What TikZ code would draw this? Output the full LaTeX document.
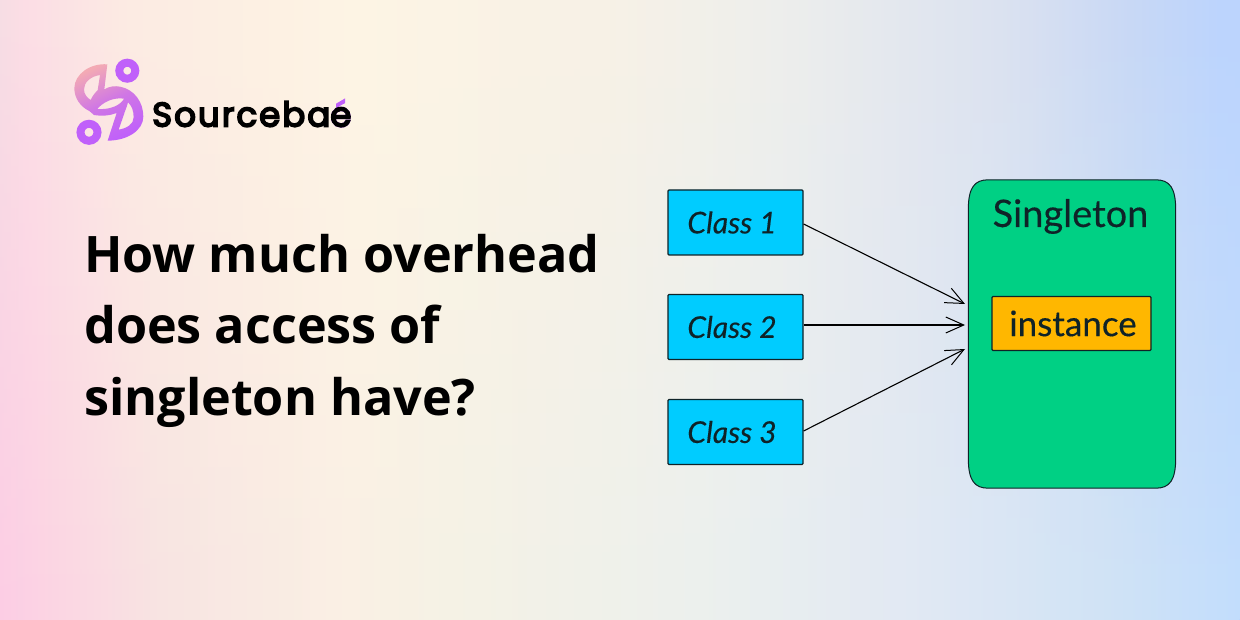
\documentclass[tikz,border=0pt]{standalone}
\usepackage{fontspec}
\setmainfont{Open Sans}
\newfontfamily\logofont[LetterSpace=6,FakeBold=5]{Poppins}
\newfontfamily\handfont[FakeBold=0.3]{Lato}
\usetikzlibrary{arrows.meta,shadings,fadings}
\definecolor{clsblue}{RGB}{0,204,255}
\definecolor{singgreen}{RGB}{0,208,132}
\definecolor{instorange}{RGB}{255,183,0}
\definecolor{inkdark}{RGB}{15,35,40}
\definecolor{logopink}{RGB}{243,170,180}
\definecolor{logopurple}{RGB}{192,96,250}
\definecolor{ta}{RGB}{246,222,228}
\definecolor{tb}{RGB}{252,222,230}
\definecolor{tc}{RGB}{253,236,228}
\definecolor{td}{RGB}{254,245,228}
\definecolor{te}{RGB}{248,242,230}
\definecolor{tf}{RGB}{238,238,236}
\definecolor{tg}{RGB}{220,226,240}
\definecolor{th}{RGB}{200,216,245}
\definecolor{ti}{RGB}{188,212,254}
\definecolor{ba}{RGB}{253,205,228}
\definecolor{bb}{RGB}{248,228,226}
\definecolor{bc}{RGB}{250,240,228}
\definecolor{bd}{RGB}{245,242,230}
\definecolor{be}{RGB}{236,240,238}
\definecolor{bf}{RGB}{226,234,244}
\definecolor{bg}{RGB}{210,228,246}
\definecolor{bh}{RGB}{195,222,252}
\pgfdeclarehorizontalshading{bgtop}{100bp}{color(0bp)=(ta); color(25bp)=(ta); color(26bp)=(tb); color(30.24bp)=(tc); color(39.35bp)=(td); color(49.2bp)=(te); color(56.45bp)=(tf); color(65.3bp)=(tg); color(70.56bp)=(th); color(74.2bp)=(ti); color(100bp)=(ti)}
\pgfdeclarehorizontalshading{bgbottom}{100bp}{color(0bp)=(ba); color(25bp)=(ba); color(31.45bp)=(bb); color(39.1bp)=(bc); color(43.1bp)=(bd); color(53.2bp)=(be); color(61.3bp)=(bf); color(69.35bp)=(bg); color(75bp)=(bh); color(100bp)=(bh)}
\tikzset{
  classbox/.style={draw=inkdark,line width=1.2pt,fill=clsblue,rounded corners=1pt,minimum width=135pt,minimum height=65pt,inner sep=0pt,font=\handfont\itshape\fontsize{30}{32}\selectfont,text=inkdark},
  instbox/.style={draw=inkdark,line width=1.2pt,fill=instorange,rounded corners=1pt,minimum width=159pt,minimum height=54pt,inner sep=0pt,font=\handfont\fontsize{35}{38}\selectfont,text=inkdark},
  link/.style={draw=black,line width=1.1pt,-{Straight Barb[length=18pt,width=16pt,line width=1pt]}},
  titletext/.style={font=\bfseries\fontsize{50.3}{72}\selectfont,text=black,anchor=base west,inner sep=0pt},
  ring/.style={draw=logopurple,line width=8pt,fill=none},
}
\begin{document}
\begin{tikzpicture}[x=1pt,y=-1pt]
\useasboundingbox (0,0) rectangle (1240,620);
\shade[shading=bgtop] (0,0) rectangle (1240,620);
\shade[shading=bgbottom,path fading=north] (0,0) rectangle (1240,620);
% logo
\draw[ring] (127.3,70.7) circle (8pt);
\draw[ring] (89,132.3) circle (8.5pt);
\begin{scope}[shift={(70,55)},x=.3333pt,y=-.3333pt]
\shade[even odd rule,top color=logopink,bottom color=logopurple,middle color=logopurple!70!logopink,shading angle=25]
  (112,28) .. controls (60,24) and (13,58) .. (13,100)
  .. controls (13,128) and (30,155) .. (58,168)
  -- (72,180) .. controls (95,184) and (120,182) .. (140,174)
  -- (113,257) .. controls (172,257) and (220,226) .. (220,185)
  .. controls (220,140) and (192,103) .. (150,95)
  .. controls (135,92) and (118,94) .. (103,103) -- cycle
  (90,60) .. controls (62,64) and (42,82) .. (42,103)
  .. controls (42,116) and (50,128) .. (62,135)
  .. controls (68,122) and (76,112) .. (83,106) -- cycle
  (82,162) .. controls (98,142) and (130,126) .. (162,131)
  .. controls (152,150) and (122,165) .. (82,162) -- cycle
  (146,224) .. controls (170,220) and (191,208) .. (191,187)
  .. controls (191,167) and (185,152) .. (174,142)
  .. controls (170,158) and (164,170) .. (162,178) -- cycle;
\end{scope}
\node[anchor=base west,inner sep=0pt,font=\logofont\fontsize{34}{40}\selectfont,text=black] (brand) at (152,126.5) {Sourceba\rlap{\color{logopurple}é}e};
% title
\node[titletext] (t1) at (84,273) {How much overhead};
\node[titletext] (t2) at (84,343.5) {does access of};
\node[titletext] (t3) at (84,415) {singleton have?};
% diagram
\node[classbox] (c1) at (735.5,222.5) {Class 1\kern7pt\null};
\node[classbox] (c2) at (735.5,327) {Class 2\kern7pt\null};
\node[classbox] (c3) at (735.5,432) {Class 3\kern7pt\null};
\node[inner sep=0pt,minimum width=207pt,minimum height=308pt] (s) at (1072,334) {};
\draw[draw=inkdark,line width=1pt,fill=singgreen]
  ([yshift=-30pt]s.north west)
  .. controls ([yshift=-8pt]s.north west) and ([xshift=6pt]s.north west) .. ([xshift=20pt]s.north west)
  -- ([xshift=-20pt]s.north east)
  .. controls ([xshift=-6pt]s.north east) and ([yshift=-8pt]s.north east) .. ([yshift=-30pt]s.north east)
  -- ([yshift=30pt]s.south east)
  .. controls ([yshift=8pt]s.south east) and ([xshift=-6pt]s.south east) .. ([xshift=-20pt]s.south east)
  -- ([xshift=20pt]s.south west)
  .. controls ([xshift=6pt]s.south west) and ([yshift=8pt]s.south west) .. ([yshift=30pt]s.south west)
  -- cycle;
\node[anchor=base,inner sep=0pt,font=\handfont\fontsize{38}{40}\selectfont,text=inkdark] (sl) at (1070.5,227) {Singleton};
\node[instbox] (i) at (1071.5,323.5) {\hspace{3pt}instance};
\coordinate (e1) at (965,304);
\coordinate (e2) at (965,325);
\coordinate (e3) at (965,349);
\draw[link] (c1.east |- 0,224) -- (e1);
\draw[link] (c2.east |- 0,325) -- (e2);
\draw[link] (c3.east |- 0,431) -- (e3);
\end{tikzpicture}
\end{document}
